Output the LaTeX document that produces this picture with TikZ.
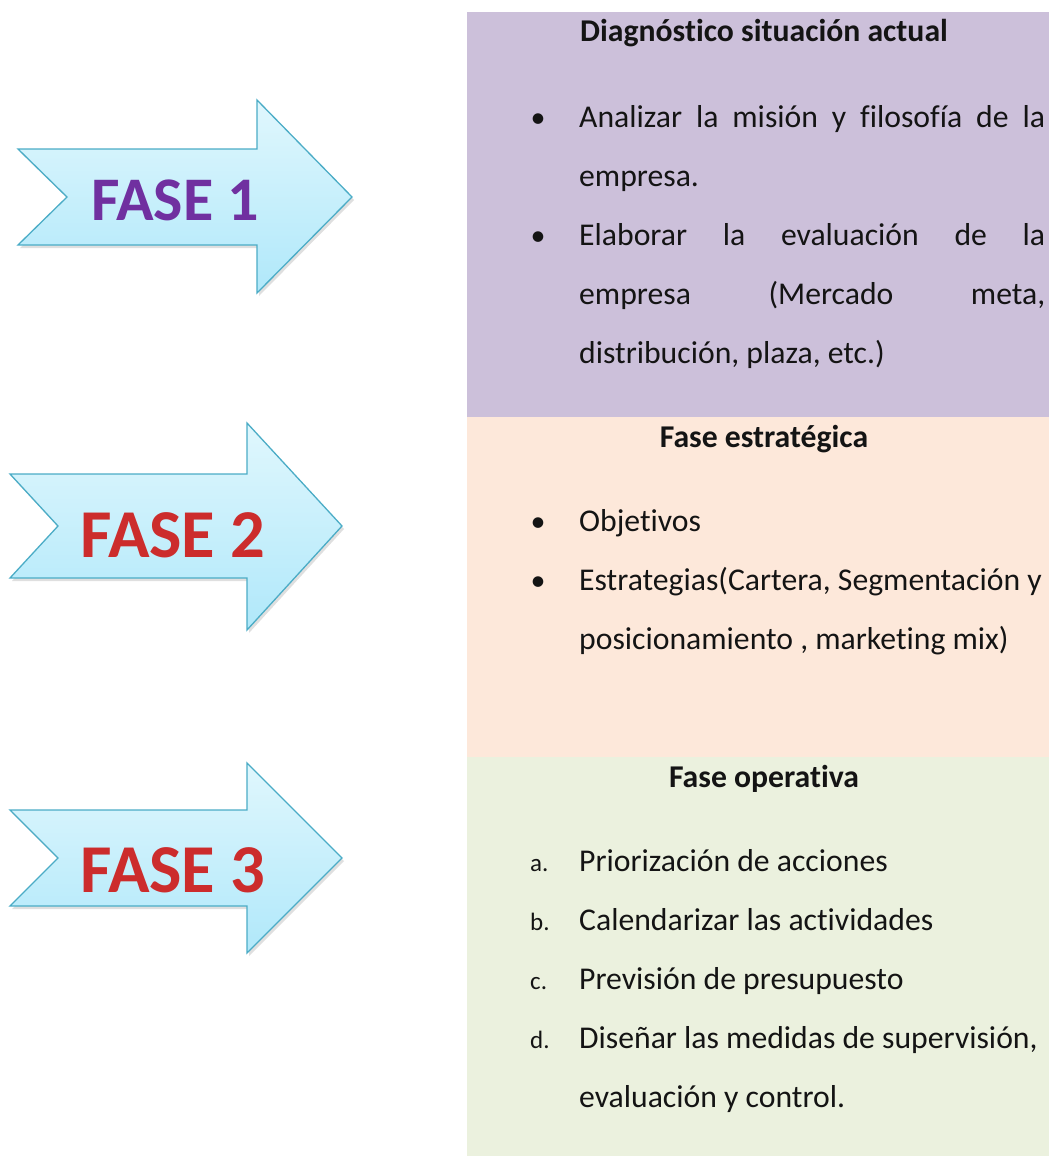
\documentclass[tikz,border=0pt]{standalone}
\usepackage{fontspec}
\setmainfont{Carlito}[Ligatures=NoCommon]
\usetikzlibrary{shadows}

\definecolor{diagfill}{RGB}{204,192,218}
\definecolor{estrfill}{RGB}{253,232,218}
\definecolor{operfill}{RGB}{235,241,222}
\definecolor{arrowtop}{RGB}{224,247,253}
\definecolor{arrowbot}{RGB}{176,232,250}
\definecolor{arrowline}{RGB}{75,172,198}
\definecolor{fasepurple}{RGB}{112,48,160}
\definecolor{fasered}{RGB}{204,44,44}
\definecolor{bodytext}{RGB}{20,20,20}

% justified line of the panel text
\newcommand{\jline}[1]{\makebox[466pt][s]{#1}}

\tikzset{
	fasearrow/.style={draw=arrowline,line width=1.3pt,line join=miter,
		top color=arrowtop,bottom color=arrowbot,
		drop shadow={opacity=0.25,shadow xshift=2pt,shadow yshift=-3pt}},
	faselabel/.style={inner sep=0pt,font=\fontsize{62}{62}\selectfont\bfseries},
	head/.style={anchor=base,inner sep=0pt,text=bodytext,
		font=\fontsize{31.7}{31.7}\selectfont\bfseries},
	item/.style={anchor=base west,inner sep=0pt,text=bodytext,
		font=\fontsize{31.7}{31.7}\selectfont},
	itemdot/.style={anchor=base,inner sep=0pt,text=bodytext,
		font=\fontsize{30}{30}\selectfont},
	itemletter/.style={anchor=base west,inner sep=0pt,text=bodytext,
		font=\fontsize{25}{25}\selectfont}
}

\begin{document}
\begin{tikzpicture}[x=1pt,y=-1pt]
	\useasboundingbox (0,0) rectangle (1049,1156);
	
	% panels
	\fill[diagfill] (467,12) rectangle (1049,417);
	\fill[estrfill] (467,417) rectangle (1049,757);
	\fill[operfill] (467,757) rectangle (1049,1156);
	
	% arrows
	\draw[fasearrow] (18,149) -- (257,149) -- (257,100) -- (352,197)
		-- (257,293) -- (257,245) -- (18,245) -- (67,197) -- cycle;
	\draw[fasearrow] (10,474) -- (247,474) -- (247,423) -- (342,526)
		-- (247,630) -- (247,578) -- (10,578) -- (58,526) -- cycle;
	\draw[fasearrow] (10,810) -- (247,810) -- (247,763) -- (342,858)
		-- (247,953) -- (247,906) -- (10,906) -- (58,858) -- cycle;
	
	\node[faselabel,text=fasepurple] (fase1) at (175,200) {FASE 1};
	\node[faselabel,text=fasered,font=\fontsize{68.5}{68.5}\selectfont\bfseries]
		(fase2) at (173,535) {FASE 2};
	\node[faselabel,text=fasered,font=\fontsize{68.5}{68.5}\selectfont\bfseries]
		(fase3) at (173,870) {FASE 3};
	
	% Fase 1
	\node[head] (diag) at (764,42) {Diagnóstico situación actual};
	\node[itemdot] (d1) at (538,127) {•};
	\node[item] (d1a) at (579,127) {\jline{Analizar la misión y filosofía de la}};
	\node[item] (d1b) at (579,186) {empresa.};
	\node[itemdot] (d2) at (538,245) {•};
	\node[item] (d2a) at (579,245) {\jline{Elaborar la evaluación de la}};
	\node[item] (d2b) at (579,304) {\jline{empresa (Mercado meta,}};
	\node[item] (d2c) at (579,363) {distribución, plaza, etc.)};
	
	% Fase 2
	\node[head] (estr) at (764,447) {Fase estratégica};
	\node[itemdot] (e1) at (538,531) {•};
	\node[item] (e1a) at (579,531) {Objetivos};
	\node[itemdot] (e2) at (538,590) {•};
	\node[item] (e2a) at (579,590) {Estrategias(Cartera, Segmentación y};
	\node[item] (e2b) at (579,649) {posicionamiento , marketing mix)};
	
	% Fase 3
	\node[head] (oper) at (764,787) {Fase operativa};
	\foreach \l/\t [count=\i] in {a./{Priorización de acciones},
		b./{Calendarizar las actividades},
		c./{Previsión de presupuesto},
		d./{Diseñar las medidas de supervisión,}}
	{
		\node[itemletter] (o\i) at (530,812+59*\i) {\l};
		\node[item] (o\i t) at (579,812+59*\i) {\t};
	}
	\node[item] (o4b) at (579,1107) {evaluación y control.};
\end{tikzpicture}
\end{document}
